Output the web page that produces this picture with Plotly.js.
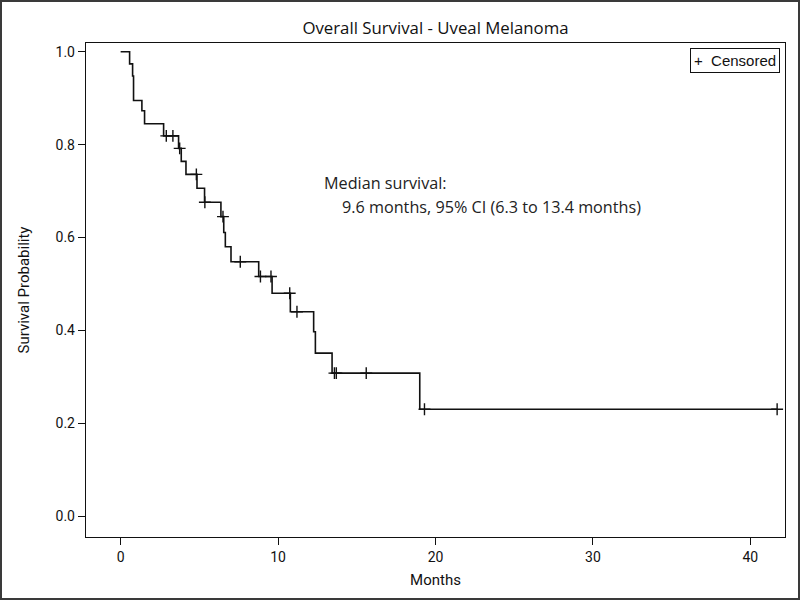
<!DOCTYPE html>
<html>
<head>
<meta charset="utf-8">
<script src="https://cdn.plot.ly/plotly-3.0.1.min.js"></script>
<style>
  html, body { margin: 0; padding: 0; background: #fff; }
  #wrap { position: relative; width: 800px; height: 600px; }
  #chart { width: 800px; height: 600px; }
  #frame { position: absolute; left: 0; top: 0; width: 800px; height: 600px; box-sizing: border-box; border: 2px solid #3a3a3a; pointer-events: none; }
</style>
</head>
<body>
<div id="wrap"><div id="chart"></div><div id="frame"></div></div>
<script>
// Kaplan-Meier step points (time in months, survival probability)
const stepTimes = [0, 0.57, 0.76, 0.82, 1.35, 1.52, 2.73, 3.68, 3.85, 4.15, 4.85, 5.33, 6.37, 6.55, 6.65, 7.01, 8.77, 9.62, 10.78, 12.26, 12.37, 13.43, 19.0, 41.7];
const stepSurv  = [1.0, 0.974, 0.948, 0.895, 0.873, 0.845, 0.819, 0.792, 0.764, 0.736, 0.706, 0.676, 0.645, 0.611, 0.580, 0.548, 0.516, 0.480, 0.440, 0.397, 0.351, 0.308, 0.230, 0.230];
// Censored observation times (months)
const censorTimes = [2.9, 3.32, 3.75, 4.81, 5.35, 6.5, 7.6, 8.88, 9.55, 10.74, 11.2, 13.58, 13.7, 15.6, 19.3, 41.7];
const xTicks = [0, 10, 20, 30, 40];
const yTicks = [0.0, 0.2, 0.4, 0.6, 0.8, 1.0];
const titleText = "Overall Survival - Uveal Melanoma";
const noteLine1 = "Median survival:";
const noteLine2 = "9.6 months, 95% CI (6.3 to 13.4 months)";
const legendText = "+  Censored";

function survAt(t) {
  let s = stepSurv[0];
  for (let i = 0; i < stepTimes.length; i++) { if (stepTimes[i] <= t) s = stepSurv[i]; }
  return s;
}
const censorSurv = censorTimes.map(survAt);

const axisFont = {family: "Roboto, Liberation Sans, sans-serif", size: 14, color: "#111"};
const titleFont = {family: "Roboto, Liberation Sans, sans-serif", size: 15, color: "#111"};
const textFont = {family: "Open Sans, Noto Sans, sans-serif", size: 16.2, color: "#222"};

const traces = [
  {x: stepTimes, y: stepSurv, mode: "lines", line: {shape: "hv", color: "#111", width: 1.6}, showlegend: false, hoverinfo: "skip"},
  {x: censorTimes, y: censorSurv, mode: "markers", name: "Censored", showlegend: false,
   marker: {symbol: "cross-thin-open", size: 8.5, color: "#111", line: {color: "#111", width: 1.4}}}
];

const layout = {
  width: 800, height: 600,
  margin: {l: 86, r: 15, t: 43, b: 63},
  paper_bgcolor: "#fff", plot_bgcolor: "#fff",
  showlegend: false,
  title: {text: titleText, font: {family: "Open Sans, Noto Sans, sans-serif", size: 16.8, color: "#111"}, x: 0.5, xref: "paper", y: 0.953, yanchor: "middle"},
  xaxis: {range: [-2.2, 42.2], tickvals: xTicks, ticktext: xTicks.map(String), ticks: "outside", ticklen: 7, tickcolor: "#111",
          showgrid: false, zeroline: false, showline: true, linecolor: "#111", linewidth: 1.2, mirror: true,
          tickfont: axisFont, title: {text: "Months", font: titleFont, standoff: 10}},
  yaxis: {range: [-0.045, 1.019], tickvals: yTicks, ticktext: yTicks.map(v => v.toFixed(1)), ticks: "outside", ticklen: 7, tickcolor: "#111",
          showgrid: false, zeroline: false, showline: true, linecolor: "#111", linewidth: 1.2, mirror: true,
          tickfont: axisFont, title: {text: "Survival Probability", font: titleFont, standoff: 22}},
  annotations: [
    {x: 12.8, y: 0.718, xref: "x", yref: "y", text: noteLine1, showarrow: false, xanchor: "left", yanchor: "middle", font: textFont},
    {x: 13.96, y: 0.666, xref: "x", yref: "y", text: noteLine2, showarrow: false, xanchor: "left", yanchor: "middle", font: textFont},
    {x: 0.993, y: 0.99, xref: "paper", yref: "paper", text: legendText, showarrow: false, xanchor: "right", yanchor: "top",
     bordercolor: "#111", borderwidth: 1, borderpad: 3, bgcolor: "#fff",
     font: {family: "Liberation Sans, Arial, sans-serif", size: 15, color: "#111"}}
  ]
};

Plotly.newPlot("chart", traces, layout, {staticPlot: true, displayModeBar: false});
</script>
</body>
</html>
